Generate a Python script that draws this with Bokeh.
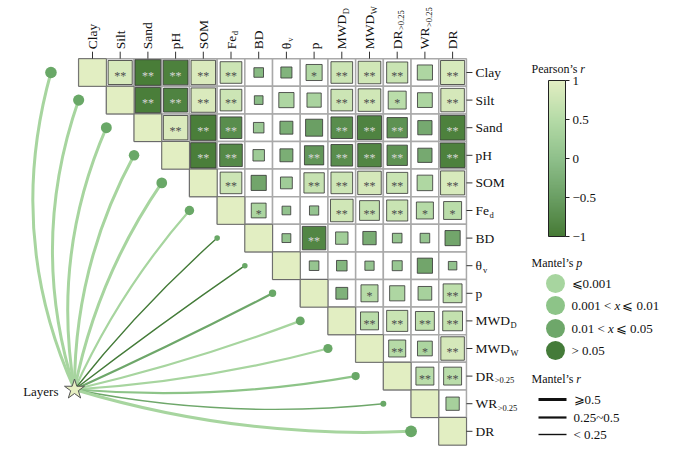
import numpy as np
from bokeh.plotting import figure
from bokeh.models import Range1d, ColumnDataSource, LinearColorMapper
from bokeh.transform import linear_cmap
from bokeh.core.properties import value
from bokeh.embed import file_html
from bokeh.resources import INLINE

# ---------------- data ----------------
var_main = ["Clay", "Silt", "Sand", "pH", "SOM", "Fe", "BD", "θ", "p",
            "MWD", "MWD", "DR", "WR", "DR"]
var_sub = ["", "", "", "", "", "d", "", "v", "", "D", "W", ">0.25", ">0.25", ""]

# Pearson's r, upper triangle, row j -> columns j+1..13
r_clay = [0.88, -0.97, -0.92, 0.90, 0.75, -0.10, -0.18, 0.45, 0.75, 0.80, 0.72, 0.40, 0.88]
r_silt = [-0.95, -0.88, 0.90, 0.75, -0.05, 0.40, 0.35, 0.75, 0.80, 0.55, 0.38, 0.85]
r_sand = [0.90, -0.95, -0.75, 0.15, -0.28, -0.50, -0.75, -0.88, -0.68, -0.35, -0.92]
r_ph = [-0.95, -0.80, 0.20, -0.28, -0.62, -0.75, -0.85, -0.68, -0.35, -0.92]
r_som = [0.75, -0.40, 0.22, 0.68, 0.75, 0.85, 0.72, 0.42, 0.88]
r_fed = [0.38, 0.05, 0.08, 0.80, 0.65, 0.72, 0.50, 0.55]
r_bd = [0.06, -0.85, 0.25, -0.30, 0.10, 0.10, -0.40]
r_thv = [0.10, -0.15, 0.08, 0.12, -0.40, 0.04]
r_p = [-0.22, 0.50, 0.40, 0.32, 0.60]
r_mwdd = [0.55, 0.72, 0.60, 0.65]
r_mwdw = [0.50, 0.38, 0.85]
r_dr25 = [0.55, 0.55]
r_wr25 = [0.30]
r_rows = [r_clay, r_silt, r_sand, r_ph, r_som, r_fed, r_bd, r_thv, r_p,
          r_mwdd, r_mwdw, r_dr25, r_wr25]

s_clay = ["**", "**", "**", "**", "**", "", "", "*", "**", "**", "**", "", "**"]
s_silt = ["**", "**", "**", "**", "", "", "", "**", "**", "*", "", "**"]
s_sand = ["**", "**", "**", "", "", "", "**", "**", "**", "", "**"]
s_ph = ["**", "**", "", "", "**", "**", "**", "**", "", "**"]
s_som = ["**", "", "", "**", "**", "**", "**", "", "**"]
s_fed = ["*", "", "", "**", "**", "**", "*", "*"]
s_bd = ["", "**", "", "", "", "", ""]
s_thv = ["", "", "", "", "", ""]
s_p = ["", "*", "", "", "**"]
s_mwdd = ["**", "**", "**", "**"]
s_mwdw = ["**", "*", "**"]
s_dr25 = ["**", "**"]
s_wr25 = [""]
s_rows = [s_clay, s_silt, s_sand, s_ph, s_som, s_fed, s_bd, s_thv, s_p,
          s_mwdd, s_mwdw, s_dr25, s_wr25]

# Mantel test of Layers vs each variable
mantel_r = [0.58, 0.55, 0.53, 0.50, 0.52, 0.42, 0.12, 0.12, 0.26, 0.38, 0.40, 0.32, 0.15, 0.60]
mantel_pcat = [0, 0, 0, 0, 0, 0, 3, 3, 2, 0, 0, 1, 2, 0]

p_labels = ["⩽0.001", "0.001 < x ⩽ 0.01", "0.01 < x ⩽ 0.05", "> 0.05"]
r_labels = ["⩾0.5", "0.25~0.5", "< 0.25"]
cbar_ticks = [1, 0.5, 0, -0.5, -1]
cbar_tick_labels = ["1", "0.5", "0", "−0.5", "−1"]

# ---------------- style ----------------
SX, SY = 27.7, 27.6
W, H = 675, 451
FONT = value("Liberation Serif")

def px(xp):
    return (xp - 92) / SX

def py(yp):
    return (yp - 72) / SY

anchors = [(-1.0, "#477b36"), (-0.5, "#6b9f64"), (0.0, "#8fc08b"),
           (0.5, "#b5dba7"), (1.0, "#e2eec2")]

def h2r(h):
    return [int(h[i:i + 2], 16) for i in (1, 3, 5)]

palette = []
for t in np.linspace(-1, 1, 256):
    for (a0, c0), (a1, c1) in zip(anchors[:-1], anchors[1:]):
        if a0 <= t <= a1:
            f = (t - a0) / (a1 - a0)
            c = [round(u + (v - u) * f) for u, v in zip(h2r(c0), h2r(c1))]
            palette.append("#%02x%02x%02x" % tuple(c))
            break

pcols = ["#a7d59f", "#8dc488", "#6ea76a", "#447b39"]
lw_for = lambda r: 3.0 if r >= 0.5 else (2.2 if r >= 0.25 else 1.4)

# Times-like em widths for placing subscripts / italic pieces
EM = {"F": .556, "e": .444, "θ": .52, "M": .889, "W": .944, "D": .722, "R": .667,
      "P": .556, "a": .444, "r": .333, "s": .389, "o": .5, "n": .5, "’": .333,
      " ": .25, "t": .278, "l": .278, "0": .5, "1": .5, "5": .5, ".": .25,
      "<": .564, "p": .5}

def tw(s, size):
    return sum(EM.get(c, .5) for c in s) * size

p = figure(width=W, height=H, output_backend="svg", toolbar_location=None,
           x_range=Range1d(px(0), px(W)), y_range=Range1d(py(H), py(0)),
           x_axis_location=None, y_axis_location=None, min_border=0)
p.grid.visible = False
p.outline_line_color = None
p.background_fill_color = "white"
p.border_fill_color = "white"

n = len(var_main)

# ---- Mantel curves ----
sx0, sy0 = px(74), py(389)
cx0, cy0, ex, ey, ccx, ccy = [], [], [], [], [], []
for j in range(n):
    x1, y1 = j - 1.5, j
    dx, dy = x1 - sx0, y1 - sy0
    ang = np.degrees(np.arctan2(-dy, dx))
    d = ang - 32
    f = 0.00145 * d if d > 0 else 0.0011 * d
    mx, my = (sx0 + x1) / 2, (sy0 + y1) / 2
    ccx.append(mx + 2 * f * dy)
    ccy.append(my - 2 * f * dx)
    cx0.append(sx0); cy0.append(sy0); ex.append(x1); ey.append(y1)
curve_src = ColumnDataSource(dict(
    x0=cx0, y0=cy0, x1=ex, y1=ey, cx=ccx, cy=ccy,
    color=[pcols[c] for c in mantel_pcat], lw=[lw_for(r) for r in mantel_r],
    size=[4 + 13 * r for r in mantel_r]))
p.quadratic(x0="x0", y0="y0", x1="x1", y1="y1", cx="cx", cy="cy",
            line_color="color", line_width="lw", source=curve_src)
p.scatter(x="x1", y="y1", size="size", fill_color="#69a867", line_color=None,
          source=curve_src)

# ---- grid background ----
gx, gy = [], []
for j in range(n):
    for i in range(j, n):
        gx.append(i); gy.append(j)
p.rect(x=gx, y=gy, width=1, height=1, fill_color="white",
       line_color="#a9a9a9", line_width=1.5)

# ---- diagonal ----
diag = ColumnDataSource(dict(x=list(range(n)), y=list(range(n)), r=[1.0] * n))
p.rect(x="x", y="y", width=1, height=1, source=diag,
       fill_color=linear_cmap("r", palette, -1, 1),
       line_color="#6a6a6a", line_width=1)

# ---- correlation squares ----
xs, ys, rs, sg = [], [], [], []
for j, (rr, ss) in enumerate(zip(r_rows, s_rows)):
    for k, (rv, sv) in enumerate(zip(rr, ss)):
        xs.append(j + 1 + k); ys.append(j); rs.append(rv); sg.append(sv)
sq = ColumnDataSource(dict(
    x=xs, y=ys, r=rs, sig=sg,
    side=[0.28 + 0.67 * abs(v) for v in rs],
    tc=["#d6d6d6" if v < -0.45 else "#4c4c4c" for v in rs]))
p.rect(x="x", y="y", width="side", height="side", source=sq,
       fill_color=linear_cmap("r", palette, -1, 1),
       line_color="#333333", line_alpha=0.8, line_width=1)
p.text(x="x", y="y", text="sig", source=sq, text_color="tc",
       text_font=FONT, text_font_size="12px", text_align="center",
       text_baseline="middle", y_offset=3)

# ---- axis labels ----
LS = 13.5
top_y = -0.5 - 9.5 / SY
p.segment(x0=list(range(n)), y0=[-0.5] * n, x1=list(range(n)),
          y1=[-0.5 - 7 / SY] * n, line_color="#333333", line_width=1)
p.text(x=list(range(n)), y=[top_y] * n, text=var_main, angle=np.pi / 2,
       text_font=FONT, text_font_size=f"{LS}px", text_align="left",
       text_baseline="middle", text_color="#111111")
sub_idx = [i for i in range(n) if var_sub[i]]
p.text(x=sub_idx, y=[top_y] * len(sub_idx), text=[var_sub[i] for i in sub_idx],
       angle=np.pi / 2, text_font=FONT, text_font_size="8.5px",
       text_align="left", text_baseline="middle", text_color="#111111",
       x_offset=4, y_offset=[-(tw(var_main[i], LS) + 0.5) for i in sub_idx])

right_x = 13.5 + 9 / SX
p.segment(x0=[13.5] * n, y0=list(range(n)), x1=[13.5 + 6 / SX] * n,
          y1=list(range(n)), line_color="#333333", line_width=1)
p.text(x=[right_x] * n, y=list(range(n)), text=var_main, text_font=FONT,
       text_font_size=f"{LS}px", text_align="left", text_baseline="middle",
       text_color="#111111")
p.text(x=[right_x] * len(sub_idx), y=sub_idx, text=[var_sub[i] for i in sub_idx],
       text_font=FONT, text_font_size="8.5px", text_align="left",
       text_baseline="middle", text_color="#111111",
       x_offset=[tw(var_main[i], LS) + 0.5 for i in sub_idx], y_offset=4)

# ---- Layers star ----
p.text(x=[px(58)], y=[py(391)], text=["Layers"], text_font=FONT,
       text_font_size="13px", text_align="right", text_baseline="middle",
       text_color="#111111")
p.scatter(x=[sx0], y=[sy0], marker="star", size=21, fill_color="#e6efc2",
          line_color="#555555", line_width=1)

# ---- legend: Pearson's r ----
TS = 12
def title(xp, yp, main, ital):
    p.text(x=[px(xp)], y=[py(yp)], text=[main], text_font=FONT,
           text_font_size=f"{TS}px", text_align="left", text_baseline="middle",
           text_color="#111111")
    p.text(x=[px(xp)], y=[py(yp)], text=[ital], text_font=FONT,
           text_font_size=f"{TS}px", text_font_style="italic", text_align="left",
           text_baseline="middle", text_color="#111111",
           x_offset=tw(main, TS) - 1)

title(531, 68, "Pearson’s ", "r")
cb_top, cb_bot = py(80), py(236)
cb_l, cb_r = px(548), px(565)
grad = np.linspace(1, -1, 200).reshape(200, 1)
cmapper = LinearColorMapper(palette=palette, low=-1, high=1)
p.image(image=[grad], x=cb_l, y=cb_top, dw=cb_r - cb_l, dh=cb_bot - cb_top,
        color_mapper=cmapper)
p.rect(x=[(cb_l + cb_r) / 2], y=[(cb_top + cb_bot) / 2], width=cb_r - cb_l,
       height=cb_bot - cb_top, fill_color=None, line_color="#222222",
       line_width=1)
tick_y = [cb_top + (1 - t) / 2 * (cb_bot - cb_top) for t in cbar_ticks]
p.segment(x0=[cb_r] * 5, y0=tick_y, x1=[cb_r + 4 / SX] * 5, y1=tick_y,
          line_color="#222222", line_width=1)
p.text(x=[px(572)] * 5, y=tick_y, text=cbar_tick_labels, text_font=FONT,
       text_font_size="13px", text_align="left", text_baseline="middle",
       text_color="#111111")

# ---- legend: Mantel's p ----
LL = 13
title(531, 262, "Mantel’s ", "p")
cy_leg = [py(v) for v in (283, 305, 328, 350)]
p.scatter(x=[px(555)] * 4, y=cy_leg, size=19, fill_color=pcols, line_color=None)
lab_x = px(571)
for k, lab in enumerate(p_labels):
    if " x " in lab:
        a, b = lab.split(" x ")
        a = a + " "
        b = " " + b
        p.text(x=[lab_x], y=[cy_leg[k]], text=[a], text_font=FONT,
               text_font_size=f"{LL}px", text_align="left",
               text_baseline="middle", text_color="#111111")
        p.text(x=[lab_x], y=[cy_leg[k]], text=["x"], text_font=FONT,
               text_font_size=f"{LL}px", text_font_style="italic",
               text_align="left", text_baseline="middle", text_color="#111111",
               x_offset=tw(a, LL))
        p.text(x=[lab_x], y=[cy_leg[k]], text=[b], text_font=FONT,
               text_font_size=f"{LL}px", text_align="left",
               text_baseline="middle", text_color="#111111",
               x_offset=tw(a, LL) + 0.444 * LL + 2)
    else:
        p.text(x=[lab_x], y=[cy_leg[k]], text=[lab], text_font=FONT,
               text_font_size=f"{LL}px", text_align="left",
               text_baseline="middle", text_color="#111111")

# ---- legend: Mantel's r ----
title(531, 378, "Mantel’s ", "r")
ly = [py(v) for v in (399, 417, 434)]
p.segment(x0=[px(538)] * 3, y0=ly, x1=[px(566)] * 3, y1=ly,
          line_color="#111111", line_width=[3.0, 2.2, 1.4])
p.text(x=[px(573)] * 3, y=ly, text=r_labels, text_font=FONT,
       text_font_size=f"{LL}px", text_align="left", text_baseline="middle",
       text_color="#111111")

open("out.html", "w").write(file_html(p, INLINE))
